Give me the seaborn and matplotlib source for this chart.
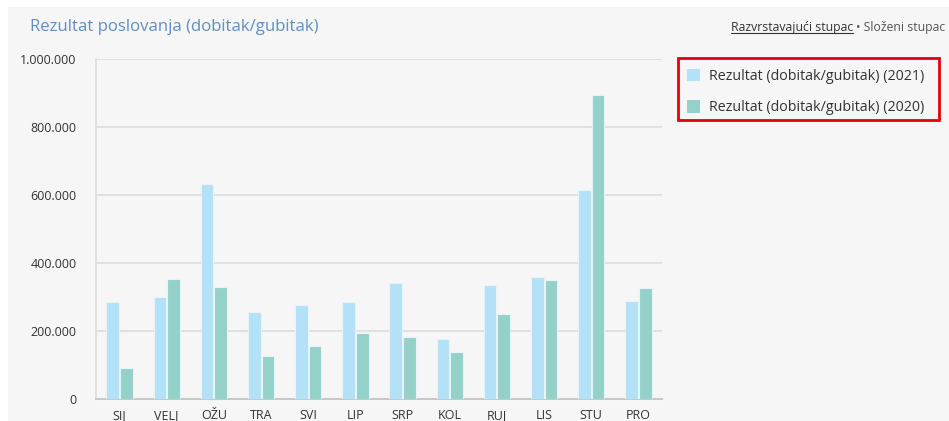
import numpy as np
import pandas as pd
import matplotlib
matplotlib.use("Agg")
import matplotlib.pyplot as plt
from matplotlib.patches import Rectangle, Patch
from matplotlib.ticker import FuncFormatter
import seaborn as sns

months = ["SIJ", "VELJ", "OŽU", "TRA", "SVI", "LIP", "SRP", "KOL", "RUJ", "LIS", "STU", "PRO"]
values_2021 = [285000, 299000, 633000, 256000, 276000, 285000, 340000, 177000, 334000, 360000, 615000, 288000]
values_2020 = [90000, 354000, 328000, 126000, 156000, 194000, 181000, 139000, 250000, 351000, 894000, 326000]
series_labels = ["Rezultat (dobitak/gubitak) (2021)", "Rezultat (dobitak/gubitak) (2020)"]
yticks = [0, 200000, 400000, 600000, 800000, 1000000]

df = pd.DataFrame({
    "month": months * 2,
    "value": values_2021 + values_2020,
    "series": [series_labels[0]] * 12 + [series_labels[1]] * 12,
})

sns.set_theme(style="white")
plt.rcParams["font.family"] = ["Open Sans", "DejaVu Sans"]

colors = ["#b3e1f7", "#94d2c9"]
bg = "#f6f6f6"

fig = plt.figure(figsize=(9.49, 4.21), dpi=100, facecolor="white")
fig.patches.append(Rectangle((8 / 949, 0), 1, 1 - 7 / 421, transform=fig.transFigure,
                             facecolor=bg, edgecolor="none", zorder=-10))

ax = fig.add_axes([96 / 949, 22 / 421, 566 / 949, 340 / 421])
ax.set_facecolor(bg)

sns.barplot(data=df, x="month", y="value", hue="series", order=months,
            hue_order=series_labels, palette=colors, saturation=1, width=0.58, gap=0.08,
            edgecolor="#e6f4f8", linewidth=0.8, ax=ax, legend=False, zorder=3)

ax.set_ylim(0, 1000000)
ax.set_xlim(-0.5, 11.5)
ax.set_yticks(yticks)
ax.yaxis.set_major_formatter(FuncFormatter(lambda v, p: "0" if v == 0 else f"{int(v):,}".replace(",", ".")))
ax.set_xlabel("")
ax.set_ylabel("")
ax.grid(axis="y", color="#dcdcdc", linewidth=1.2, zorder=0)
ax.set_axisbelow(True)

for s in ["top", "right"]:
    ax.spines[s].set_visible(False)
ax.spines["left"].set_color("#dcdcdc")
ax.spines["left"].set_linewidth(1.2)
ax.spines["bottom"].set_color("#c8c8c8")
ax.spines["bottom"].set_linewidth(1.5)

ax.tick_params(axis="y", length=0, labelsize=9, labelcolor="#333333", pad=14)
ax.tick_params(axis="x", which="major", length=0, labelsize=9, labelcolor="#333333", pad=7)
ax.set_xticks(np.arange(-0.5, 12, 1), minor=True)
ax.tick_params(axis="x", which="minor", length=10, color="#ccd6eb", width=1)

fig.text(30 / 949, 1 - 27 / 421, "Rezultat poslovanja (dobitak/gubitak)", fontsize=12.1,
         color="#5f8fc4", va="center", ha="left")

t1 = fig.text(853 / 949, 1 - 28 / 421, "Razvrstavajući stupac", fontsize=8.8, color="#333333",
              ha="right", va="center")
fig.text(856 / 949, 1 - 28 / 421, "• Složeni stupac", fontsize=8.8, color="#555555",
         ha="left", va="center")
fig.canvas.draw()
bb = t1.get_window_extent()
fig.add_artist(plt.Line2D([bb.x0 / 949, bb.x1 / 949], [bb.y0 / 421 + 0.004, bb.y0 / 421 + 0.004],
                          transform=fig.transFigure, color="#333333", linewidth=0.8))

fig.patches.append(Rectangle((678 / 949, 1 - 120 / 421), 261 / 949, 62 / 421,
                             transform=fig.transFigure, facecolor="none",
                             edgecolor="#e3000f", linewidth=2))
handles = [Patch(facecolor=c, edgecolor="none") for c in colors]
fig.legend(handles, series_labels, loc="upper left", bbox_to_anchor=(681 / 949, 1 - 63 / 421),
           frameon=False, fontsize=10.3, handlelength=0.95, handleheight=0.95,
           handletextpad=0.6, labelspacing=1.15, labelcolor="#333333", borderaxespad=0)

fig.savefig("out.png", dpi=100, facecolor=fig.get_facecolor())
